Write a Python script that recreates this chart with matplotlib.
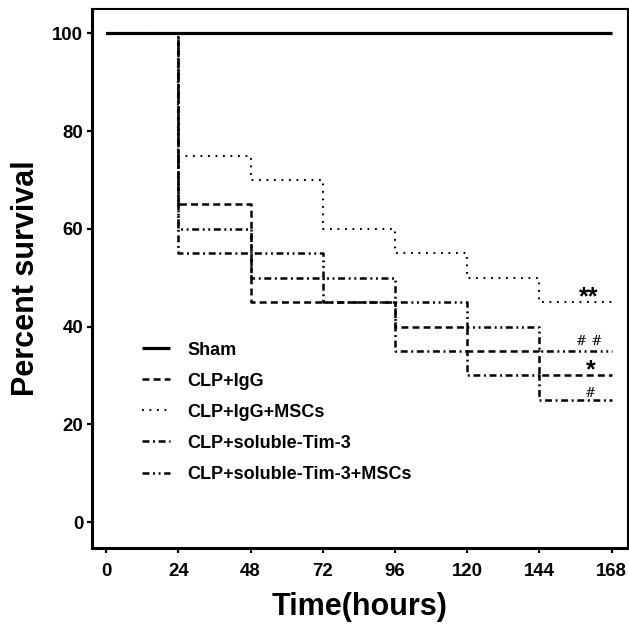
import matplotlib
matplotlib.use("Agg")
import matplotlib.pyplot as plt

plt.rcParams['font.family'] = ['Liberation Sans', 'DejaVu Sans']
plt.rcParams['font.weight'] = 'bold'
plt.rcParams['lines.scale_dashes'] = False

# ---- data ----
times = [0, 24, 48, 72, 96, 120, 144, 168]
sham = [100, 100, 100, 100, 100, 100, 100, 100]
clp_igg = [100, 65, 45, 45, 40, 35, 30, 30]
clp_igg_mscs = [100, 75, 70, 60, 55, 50, 45, 45]
clp_tim3 = [100, 55, 50, 45, 35, 30, 25, 25]
clp_tim3_mscs = [100, 60, 55, 50, 45, 40, 35, 35]
series_labels = ["Sham", "CLP+IgG", "CLP+IgG+MSCs", "CLP+soluble-Tim-3",
                 "CLP+soluble-Tim-3+MSCs"]
x_ticks = [0, 24, 48, 72, 96, 120, 144, 168]
y_ticks = [0, 20, 40, 60, 80, 100]
annotations = ["**", "# #", "*", "#"]
annot_x = [160.2, 160.4, 161.0, 160.8]
annot_y = [44.6, 36.2, 29.6, 25.6]

fig = plt.figure(figsize=(6.29, 6.24), dpi=100)
ax = fig.add_axes([0.1458, 0.1218, 0.8526, 0.8638])

lw = 1.8
h_igg, = ax.plot(times, clp_igg, drawstyle='steps-post', color='black', lw=lw,
                 dashes=(5.0, 3.0), label=series_labels[1], zorder=3)
h_mscs, = ax.plot(times, clp_igg_mscs, drawstyle='steps-post', color='black', lw=1.5,
                  dashes=(1.3, 4.1), label=series_labels[2], zorder=3)
h_tim, = ax.plot(times, clp_tim3, drawstyle='steps-post', color='black', lw=lw,
                 dashes=(5.0, 2.6, 1.4, 2.6), label=series_labels[3], zorder=3)
h_timm, = ax.plot(times, clp_tim3_mscs, drawstyle='steps-post', color='black', lw=lw,
                  dashes=(5.0, 2.6, 1.4, 2.6, 1.4, 2.6), label=series_labels[4], zorder=3)
h_sham, = ax.plot(times, sham, drawstyle='steps-post', color='black', lw=2.3,
                  solid_capstyle='butt', label=series_labels[0], zorder=4)

ax.set_xlim(-4.75, 173.4)
ax.set_ylim(-5.32, 105.0)
ax.set_xticks(x_ticks)
ax.set_yticks(y_ticks)
ax.tick_params(axis='both', direction='out', length=3.6, width=1.6,
               labelsize=13.4)
ax.tick_params(axis='x', pad=7)
ax.tick_params(axis='y', pad=2.5)
for lab in ax.get_xticklabels() + ax.get_yticklabels():
    lab.set_fontweight('bold')

for side in ['left', 'bottom']:
    ax.spines[side].set_linewidth(2.2)
for side in ['top', 'right']:
    ax.spines[side].set_linewidth(1.5)

ax.set_xlabel("Time(hours)", fontsize=22, fontweight='bold', labelpad=9)
ax.set_ylabel("Percent survival", fontsize=22, fontweight='bold', labelpad=8)

for txt, xx, yy in zip(annotations, annot_x, annot_y):
    if '*' in txt:
        ax.text(xx, yy, txt, ha='center', va='baseline', fontsize=18,
                fontweight='bold')
    else:
        ax.text(xx, yy, txt, ha='center', va='baseline', fontsize=9.5,
                fontweight='normal', family='DejaVu Serif')

leg = ax.legend(handles=[h_sham, h_igg, h_mscs, h_tim, h_timm],
                loc='upper left', bbox_to_anchor=(0.0932, 0.383),
                frameon=False, fontsize=13, handlelength=1.55,
                handletextpad=0.98, labelspacing=0.78, borderpad=0,
                borderaxespad=0)
for t in leg.get_texts():
    t.set_fontweight('bold')

fig.savefig("out.png", dpi=100)
